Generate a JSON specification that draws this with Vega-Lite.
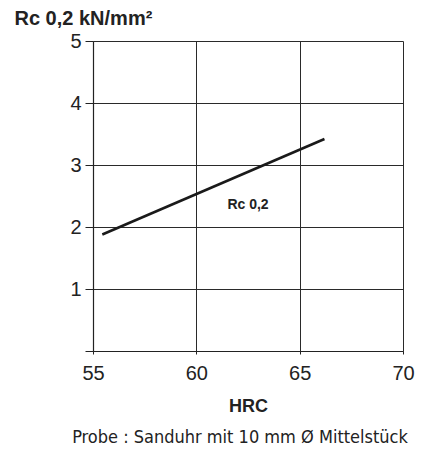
{
  "$schema": "https://vega.github.io/schema/vega-lite/v6.json",
  "autosize": "none",
  "width": 310,
  "height": 310,
  "padding": {"left": 93, "top": 41, "right": 22, "bottom": 106},
  "background": "white",
  "config": {"view": {"stroke": null}, "font": "Liberation Sans"},
  "title": {
    "text": "Probe : Sanduhr mit 10 mm Ø Mittelstück",
    "orient": "bottom",
    "anchor": "middle",
    "font": "DejaVu Sans Condensed",
    "fontWeight": "normal",
    "fontSize": 18,
    "color": "#222222",
    "offset": 14,
    "dx": -8
  },
  "datasets": {
    "line": [
      {"hrc": 55.45, "rc": 1.88, "series": "Rc 0,2"},
      {"hrc": 66.2, "rc": 3.42, "series": "Rc 0,2"}
    ],
    "label": [
      {"hrc": 62.5, "rc": 2.35, "text": "Rc 0,2"}
    ]
  },
  "layer": [
    {
      "data": {"name": "line"},
      "mark": {"type": "line", "color": "#1a1a1a", "strokeWidth": 2.6},
      "encoding": {
        "x": {
          "field": "hrc",
          "type": "quantitative",
          "scale": {"domain": [55, 70], "nice": false, "zero": false},
          "axis": {
            "values": [55, 60, 65, 70],
            "format": "d",
            "labelFlush": false,
            "title": "HRC",
            "titleFont": "Liberation Sans",
            "titleFontSize": 18,
            "titleFontWeight": "bold",
            "titleColor": "#222222",
            "titlePadding": 14,
            "labelFontSize": 20,
            "labelColor": "#222222",
            "labelPadding": 9,
            "tickSize": 3,
            "tickColor": "#222222",
            "domainColor": "#222222",
            "domainWidth": 1.2,
            "grid": true,
            "gridColor": "#2a2a2a",
            "gridWidth": 1,
            "gridOpacity": 1
          }
        },
        "y": {
          "field": "rc",
          "type": "quantitative",
          "scale": {"domain": [0, 5], "nice": false},
          "axis": {
            "values": [0, 1, 2, 3, 4, 5],
            "format": "d",
            "labelFlush": false,
            "labelExpr": "datum.value == 0 ? '' : datum.label",
            "title": "Rc 0,2 kN/mm²",
            "titleAngle": 0,
            "titleX": -79,
            "titleY": -17,
            "titleAlign": "left",
            "titleBaseline": "alphabetic",
            "titleFont": "Liberation Sans",
            "titleFontSize": 20,
            "titleFontWeight": "bold",
            "titleColor": "#222222",
            "labelFontSize": 20,
            "labelColor": "#222222",
            "labelPadding": 4,
            "tickSize": 8,
            "tickColor": "#222222",
            "domainColor": "#222222",
            "domainWidth": 1.2,
            "grid": true,
            "gridColor": "#2a2a2a",
            "gridWidth": 1,
            "gridOpacity": 1
          }
        }
      }
    },
    {
      "data": {"name": "label"},
      "mark": {"type": "text", "font": "Liberation Sans", "fontWeight": "bold", "fontSize": 14, "color": "#222222", "align": "center", "baseline": "middle"},
      "encoding": {
        "x": {"field": "hrc", "type": "quantitative"},
        "y": {"field": "rc", "type": "quantitative"},
        "text": {"field": "text"}
      }
    }
  ]
}
